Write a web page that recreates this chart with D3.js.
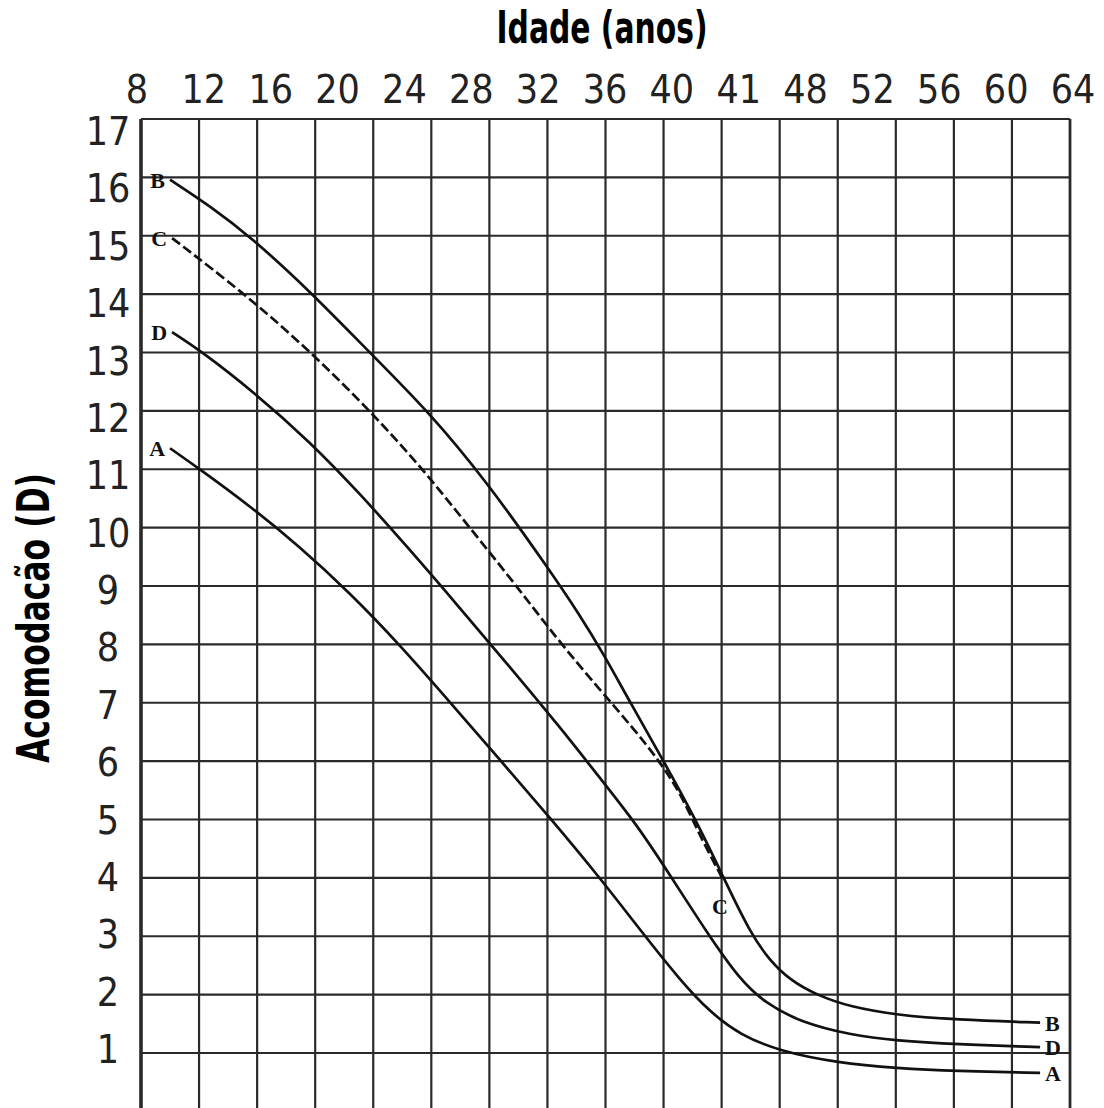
<!DOCTYPE html>
<html>
<head>
<meta charset="utf-8">
<script src="https://cdn.jsdelivr.net/npm/d3@7"></script>
<style>
    body { margin: 0; background: white; }
    .tick-label { font-family: "DejaVu Sans Condensed", "DejaVu Sans", sans-serif; font-stretch: condensed; font-size: 39px; fill: #222; }
    .title { font-family: "Liberation Sans Narrow", "DejaVu Sans Condensed", sans-serif; font-stretch: condensed; font-weight: bold; font-size: 44px; fill: #000; }
    .curve-label { font-family: "Liberation Serif", "DejaVu Serif", serif; font-weight: bold; font-size: 22px; fill: #111; }
    .grid line { stroke: #2a2a2a; stroke-width: 2.2; }
    .curve { fill: none; stroke: #111; stroke-width: 2.7; }
</style>
</head>
<body>
<svg id="chart" width="1104" height="1108"></svg>
<script>
const width = 1104;
const height = 1108;

// tick labels as printed on the figure
const xTickLabels = ["8", "12", "16", "20", "24", "28", "32", "36", "40", "41", "48", "52", "56", "60", "64"];
const yTickLabels = [17, 16, 15, 14, 13, 12, 11, 10, 9, 8, 7, 6, 5, 4, 3, 2, 1];

// grid of the scanned chart (age in years, accommodation in D)
const gridAges = [8, 12, 16, 20, 24, 28, 32, 36, 40, 44, 48, 52, 56, 60, 64, 68, 72];
const gridDiopters = [0, 1, 2, 3, 4, 5, 6, 7, 8, 9, 10, 11, 12, 13, 14, 15, 16, 17];

// curves: [age, diopters]
const curveA = [[10.0, 11.36], [12.06, 11.0], [15.51, 10.37], [18.95, 9.67], [22.4, 8.88], [25.84, 7.99], [29.29, 7.01], [32.73, 6.02], [36.18, 5.03], [39.62, 4.0], [42.38, 3.11], [45.13, 2.25], [47.2, 1.7], [49.27, 1.31], [52.02, 1.03], [56.02, 0.83], [60.08, 0.74], [64.08, 0.69], [69.94, 0.66]];
const curveB = [[10.0, 15.96], [12.75, 15.51], [15.65, 14.96], [19.64, 14.05], [23.71, 13.01], [27.77, 12.0], [31.84, 10.78], [35.9, 9.36], [38.24, 8.5], [39.9, 7.82], [41.69, 7.01], [43.96, 6.02], [46.3, 4.96], [48.1, 4.02], [49.96, 3.06], [51.33, 2.58], [52.71, 2.25], [54.57, 1.99], [56.85, 1.79], [60.08, 1.65], [64.08, 1.57], [69.94, 1.52]];
const curveC = [[10.14, 14.96], [15.23, 13.99], [19.78, 12.99], [23.78, 12.0], [27.22, 11.06], [30.32, 10.1], [33.56, 9.1], [36.73, 8.07], [39.62, 7.22], [42.03, 6.53], [43.76, 5.98], [45.13, 5.47], [46.51, 4.72], [47.68, 4.17], [48.03, 4.0]];
const curveD = [[10.14, 13.35], [12.06, 13.04], [15.79, 12.32], [19.64, 11.47], [23.09, 10.58], [26.53, 9.62], [29.98, 8.62], [33.42, 7.61], [36.87, 6.58], [39.62, 5.71], [42.17, 4.91], [44.44, 4.05], [46.99, 3.06], [49.27, 2.25], [50.99, 1.86], [53.4, 1.53], [56.85, 1.31], [60.08, 1.21], [64.08, 1.15], [69.94, 1.1]];

const svg = d3.select("#chart");

svg.append("rect")
    .attr("width", width)
    .attr("height", height)
    .attr("fill", "white");

// scales for the grid / curves
const x = d3.scaleLinear()
    .domain([8, 72])
    .range([141, 1070]);

const y = d3.scaleLinear()
    .domain([1, 17])
    .range([1053, 119]);

// the printed labels sit on their own spacing
const xLabel = d3.scalePoint()
    .domain(xTickLabels)
    .range([137, 1073]);

const yLabel = d3.scalePoint()
    .domain(yTickLabels)
    .range([145, 1063]);

// Grid
const grid = svg.append("g").attr("class", "grid");

grid.selectAll(".vline")
    .data(gridAges)
    .enter()
    .append("line")
    .attr("x1", d => x(d))
    .attr("x2", d => x(d))
    .attr("y1", y(17))
    .attr("y2", y(0))
    .style("stroke-width", (d, i) => i === 0 ? 3.6 : (i === gridAges.length - 1 ? 2.8 : 2.2));

grid.selectAll(".hline")
    .data(gridDiopters)
    .enter()
    .append("line")
    .attr("x1", x(8))
    .attr("x2", x(72))
    .attr("y1", d => y(d))
    .attr("y2", d => y(d));

// Curves (basis smooths out the reading jitter)
const line = d3.line()
    .x(d => x(d[0]))
    .y(d => y(d[1]))
    .curve(d3.curveBasis);

const curves = [
    { name: "A", data: curveA, dashed: false },
    { name: "B", data: curveB, dashed: false },
    { name: "C", data: curveC, dashed: true },
    { name: "D", data: curveD, dashed: false }
];

svg.selectAll(".curve")
    .data(curves)
    .enter()
    .append("path")
    .attr("class", "curve")
    .attr("d", d => line(d.data))
    .attr("stroke-dasharray", d => d.dashed ? "10,4" : null);

// curve letters at the start
svg.selectAll(".start-label")
    .data(curves)
    .enter()
    .append("text")
    .attr("class", "curve-label")
    .attr("x", d => x(d.data[0][0]) - 5)
    .attr("y", d => y(d.data[0][1]) + 8)
    .attr("text-anchor", "end")
    .text(d => d.name);

// curve letters at the end
svg.selectAll(".end-label")
    .data(curves)
    .enter()
    .append("text")
    .attr("class", "curve-label")
    .attr("x", d => {
        const last = d.data[d.data.length - 1];
        return d.dashed ? x(last[0]) - 2 : x(last[0]) + 5;
    })
    .attr("y", d => {
        const last = d.data[d.data.length - 1];
        return d.dashed ? y(last[1]) + 36 : y(last[1]) + 8;
    })
    .attr("text-anchor", d => d.dashed ? "middle" : "start")
    .text(d => d.name);

// Tick labels
svg.selectAll(".x-label")
    .data(xTickLabels)
    .enter()
    .append("text")
    .attr("class", "tick-label")
    .attr("x", d => xLabel(d))
    .attr("y", 103)
    .attr("text-anchor", "middle")
    .text(d => d);

svg.selectAll(".y-label")
    .data(yTickLabels)
    .enter()
    .append("text")
    .attr("class", "tick-label")
    .attr("x", 108)
    .attr("y", d => yLabel(d))
    .attr("text-anchor", "middle")
    .text(d => d);

// Axis titles
svg.append("text")
    .attr("class", "title")
    .attr("x", 602)
    .attr("y", 43)
    .attr("text-anchor", "middle")
    .attr("textLength", 211)
    .attr("lengthAdjust", "spacingAndGlyphs")
    .text("Idade (anos)");

svg.append("text")
    .attr("class", "title")
    .attr("transform", "translate(49,618) rotate(-90)")
    .attr("text-anchor", "middle")
    .attr("textLength", 290)
    .attr("lengthAdjust", "spacingAndGlyphs")
    .text("Acomodacão (D)");
</script>
</body>
</html>
